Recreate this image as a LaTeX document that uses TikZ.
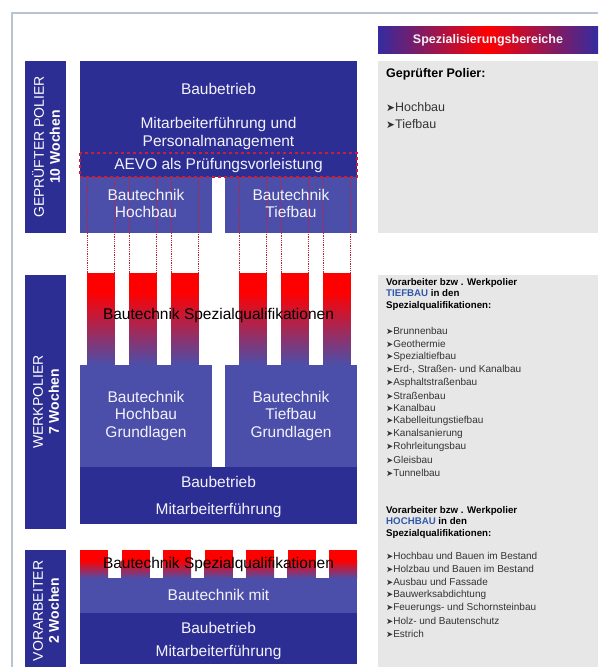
\documentclass[tikz,border=0pt]{standalone}
\usepackage{fontspec}
\setmainfont{Liberation Sans}
\newfontfamily\symfont{DejaVu Sans}
\usetikzlibrary{calc}

\definecolor{darkblue}{RGB}{45,46,148}
\definecolor{midblue}{RGB}{76,79,170}
\definecolor{hdrblue}{RGB}{52,44,160}
\definecolor{framegray}{RGB}{184,196,210}
\definecolor{boxgray}{RGB}{231,231,231}
\definecolor{dotred}{RGB}{196,32,56}
\definecolor{tagblue}{RGB}{48,88,170}
\definecolor{blocktextcol}{RGB}{242,242,250}

\newcommand{\itm}{{\symfont\scalebox{0.85}{➤}}}

\tikzset{
  blocktext/.style={text=blocktextcol, align=center, inner sep=0pt,
    font=\fontsize{15.5}{17.5}\selectfont},
  speztext/.style={text=black, inner sep=0pt, font=\fontsize{15.5}{17.5}\selectfont},
  sidetext/.style={text=white, rotate=90, align=center, inner sep=0pt,
    font=\fontsize{14}{16}\selectfont},
  kopftext/.style={anchor=north west, align=left, inner sep=0pt,
    font=\bfseries\fontsize{9.7}{11.5}\selectfont},
  listitem/.style={anchor=west, inner sep=0pt, text=black!80,
    font=\fontsize{10}{11}\selectfont},
  colline/.style={dotred, densely dotted, thick},
}

\begin{document}
\begin{tikzpicture}[x=1pt,y=-1pt]
\useasboundingbox (0,0) rectangle (598,667);

% Frame
\draw[framegray, line width=1.2pt] (12,667) -- (12,13) -- (598,13);

% Right column
\shade[left color=hdrblue, right color=hdrblue, middle color=red] (378,26) rectangle (598,53);
\node[text=blocktextcol, font=\bfseries\fontsize{12.5}{14}\selectfont] (spezkopf) at (488,40) {Spezialisierungsbereiche};
\fill[boxgray] (378,61) rectangle (598,233);
\fill[boxgray] (378,275) rectangle (598,667);

% Gepruefter Polier
\fill[darkblue] (25,61) rectangle (66,233);
\fill[darkblue] (80,61) rectangle (357,177);
\fill[midblue] (80,177) rectangle (212,233);
\fill[midblue] (225,177) rectangle (357,233);
\draw[dotred, dashed, line width=1.4pt] (80,153) rectangle (357,177);

% Dotted columns
\foreach \x in {87,129,171,239,281,323} {
\draw[colline] (\x,177) rectangle ({\x+27.5},273);
}

% Werkpolier
\fill[darkblue] (25,275) rectangle (66,529);
\foreach \x in {87,129,171,239,281,323} {
\fill[red] (\x,273) rectangle ({\x+27.5},292);
\shade[top color=red, bottom color=midblue] (\x,291.5) rectangle ({\x+27.5},365);
}
\fill[midblue] (80,365) rectangle (212,467);
\fill[midblue] (225,365) rectangle (357,467);
\fill[darkblue] (80,467) rectangle (357,524);

% Vorarbeiter
\fill[darkblue] (25,550) rectangle (66,667);
\foreach \x in {80,121.5,...,329} {
\fill[red] (\x,550) rectangle ({\x+28},561);
\shade[top color=red, bottom color=midblue] (\x,560.5) rectangle ({\x+28},578.5);
}
\fill[midblue] (80,578) rectangle (357,613);
\fill[darkblue] (80,613) rectangle (357,664);

% Side labels
\node[sidetext] (polier) at (46,147) {GEPRÜFTER POLIER\\\textbf{10 Wochen}};
\node[sidetext] (werk) at (46,402) {WERKPOLIER\\\textbf{7 Wochen}};
\node[sidetext] (vorarb) at (46,611) {VORARBEITER\\\textbf{2 Wochen}};

% Labels Gepruefter Polier
\node[blocktext] (betriebA) at (218.5,89) {Baubetrieb};
\node[blocktext] (fuehrungA) at (218.5,133.5) {Mitarbeiterführung und\\Personalmanagement};
\node[blocktext] (aevo) at (218.5,165) {AEVO als Prüfungsvorleistung};
\node[blocktext] (hochA) at (146,203.5) {Bautechnik\\Hochbau};
\node[blocktext] (tiefA) at (291,203.5) {Bautechnik\\Tiefbau};

% Labels Werkpolier
\node[speztext] (spezB) at (218.5,315) {Bautechnik Spezialqualifikationen};
\node[blocktext] (hochB) at (146,415.5) {Bautechnik\\Hochbau\\Grundlagen};
\node[blocktext] (tiefB) at (291,415.5) {Bautechnik\\Tiefbau\\Grundlagen};
\node[blocktext] (betriebB) at (218.5,482) {Baubetrieb};
\node[blocktext] (fuehrungB) at (218.5,510) {Mitarbeiterführung};

% Labels Vorarbeiter
\node[speztext] (spezC) at (218.5,564) {Bautechnik Spezialqualifikationen};
\node[blocktext] (technikC) at (218.5,595) {Bautechnik mit};
\node[blocktext] (betriebC) at (218.5,628) {Baubetrieb};
\node[blocktext] (fuehrungC) at (218.5,652) {Mitarbeiterführung};

% Spezialisierungen
\node[anchor=west, inner sep=0pt, font=\bfseries\fontsize{12.5}{14}\selectfont] (polierkopf) at (386,74) {Geprüfter Polier:};
\node[listitem, font=\fontsize{12.5}{14}\selectfont] (hochP) at (386,107) {\itm Hochbau};
\node[listitem, font=\fontsize{12.5}{14}\selectfont] (tiefP) at (386,124) {\itm Tiefbau};

\node[kopftext] (tiefkopf) at (386,278) {Vorarbeiter bzw . Werkpolier\\\textcolor{tagblue}{TIEFBAU} in den\\Spezialqualifikationen:};
\foreach \item [count=\i] in {Brunnenbau, Geothermie, Spezialtiefbau, {Erd-, Straßen- und Kanalbau},
  Asphaltstraßenbau, Straßenbau, Kanalbau, Kabelleitungstiefbau, Kanalsanierung,
  Rohrleitungsbau, Gleisbau, Tunnelbau} {
\node[listitem] (tief\i) at (386,{331+12.9*(\i-1)}) {\itm\item};
}

\node[kopftext] (hochkopf) at (386,506) {Vorarbeiter bzw . Werkpolier\\\textcolor{tagblue}{HOCHBAU} in den\\Spezialqualifikationen:};
\foreach \item [count=\i] in {Hochbau und Bauen im Bestand, Holzbau und Bauen im Bestand,
  Ausbau und Fassade, Bauwerksabdichtung, Feuerungs- und Schornsteinbau,
  Holz- und Bautenschutz, Estrich} {
\node[listitem] (hoch\i) at (386,{556+13*(\i-1)}) {\itm\item};
}

\end{tikzpicture}
\end{document}
